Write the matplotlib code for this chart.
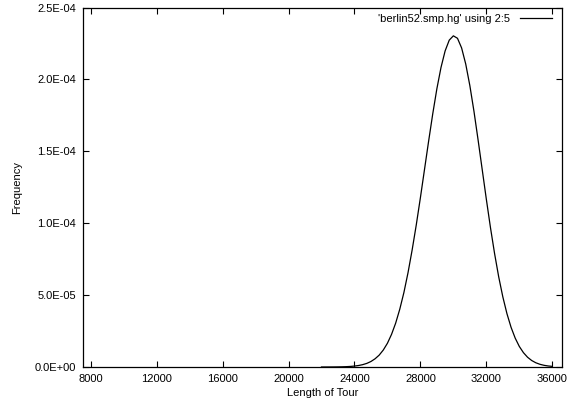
import matplotlib
matplotlib.use("Agg")
import matplotlib.pyplot as plt

# Data
tour_length = [22000, 22250, 22500, 22750, 23000, 23250, 23500, 23750,
               24000, 24250, 24500, 24750, 25000, 25250, 25500, 25750,
               26000, 26250, 26500, 26750, 27000, 27250, 27500, 27750,
               28000, 28250, 28500, 28750, 29000, 29250, 29500, 29750,
               30000, 30250, 30500, 30750, 31000, 31250, 31500, 31750,
               32000, 32250, 32500, 32750, 33000, 33250, 33500, 33750,
               34000, 34250, 34500, 34750, 35000, 35250, 35500, 35750,
               36000]
frequency = [0.0, 1.3e-8, 2.4e-8, 4.3e-8, 7.7e-8, 1.35e-7, 2.3e-7, 3.9e-7,
             6.4e-7, 1.03e-6, 1.63e-6, 2.51e-6, 3.82e-6, 5.7e-6, 8.25e-6, 1.18e-5,
             1.65e-5, 2.27e-5, 3.05e-5, 4.02e-5, 5.18e-5, 6.56e-5, 8.14e-5, 9.88e-5,
             1.177e-4, 1.374e-4, 1.571e-4, 1.761e-4, 1.935e-4, 2.083e-4, 2.198e-4, 2.273e-4,
             2.303e-4, 2.286e-4, 2.219e-4, 2.107e-4, 1.957e-4, 1.778e-4, 1.579e-4, 1.373e-4,
             1.167e-4, 9.70e-5, 7.89e-5, 6.27e-5, 4.88e-5, 3.71e-5, 2.76e-5, 2.01e-5,
             1.43e-5, 9.98e-6, 6.79e-6, 4.52e-6, 2.95e-6, 1.88e-6, 1.17e-6, 7.1e-7,
             4.3e-7]

x_ticks = [8000, 12000, 16000, 20000, 24000, 28000, 32000, 36000]
x_tick_labels = ["8000", "12000", "16000", "20000", "24000", "28000", "32000", "36000"]
y_ticks = [0.0, 5.0e-5, 1.0e-4, 1.5e-4, 2.0e-4, 2.5e-4]
y_tick_labels = ["0.0E+00", "5.0E-05", "1.0E-04", "1.5E-04", "2.0E-04", "2.5E-04"]
series_label = "'berlin52.smp.hg' using 2:5"

plt.rcParams['font.family'] = ['Liberation Sans', 'DejaVu Sans']
fs = 8

fig = plt.figure(figsize=(5.69, 4.04), dpi=100)
ax = fig.add_axes([0.1453, 0.0916, 0.9877 - 0.1453, 0.9814 - 0.0916])

ax.plot(tour_length, frequency, color='black', linewidth=0.9, label=series_label)

ax.set_xlim(7515, 36590)
ax.set_ylim(0, 2.5e-4)
ax.set_xticks(x_ticks)
ax.set_xticklabels(x_tick_labels)
ax.set_yticks(y_ticks)
ax.set_yticklabels(y_tick_labels)

ax.tick_params(axis='both', direction='in', length=4, width=0.8,
               top=True, right=True, labelsize=fs, pad=5, colors='black')
for s in ax.spines.values():
    s.set_linewidth(0.9)
    s.set_color('black')

ax.set_xlabel("Length of Tour", fontsize=fs, labelpad=3)
ax.set_ylabel("Frequency", fontsize=fs, labelpad=9)

ax.legend(loc='upper right', bbox_to_anchor=(1.0, 1.01), frameon=False,
          markerfirst=False, fontsize=fs, handlelength=2.9, handletextpad=0.9,
          borderaxespad=0.5, borderpad=0.4)

fig.savefig("out.png", dpi=100)
